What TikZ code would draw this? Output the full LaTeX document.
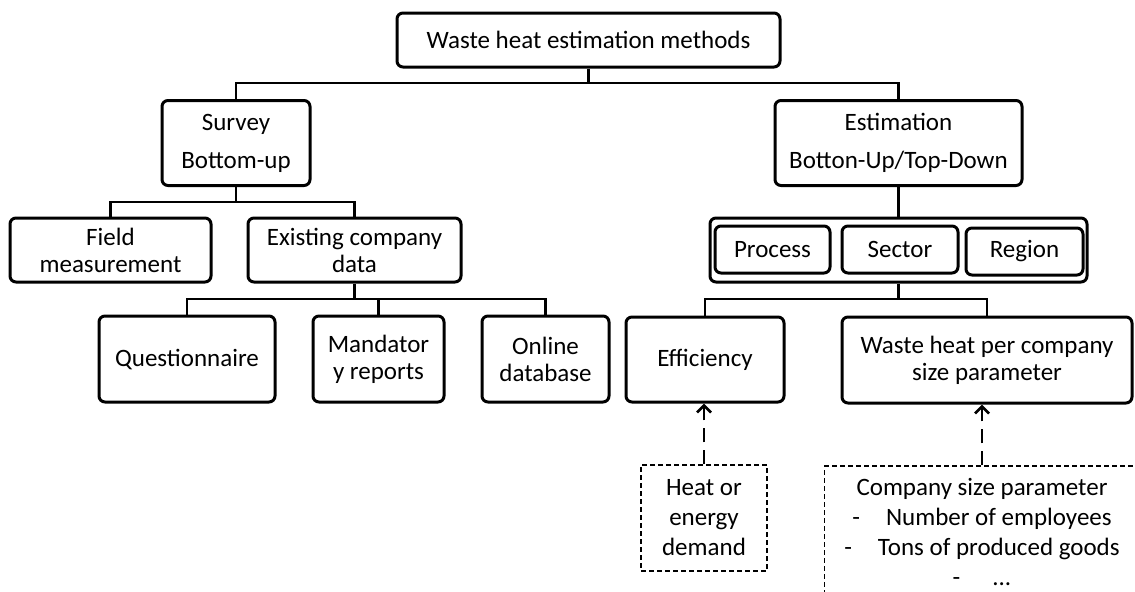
\documentclass[tikz,border=0pt]{standalone}
\usepackage{fontspec}
\setmainfont{Carlito}
\usetikzlibrary{positioning, arrows.meta}

\begin{document}
\begin{tikzpicture}[
    x=0.5pt, y=-0.5pt,
    box/.style={rectangle, rounded corners=3pt, draw, line width=1.5pt, align=center, inner sep=2pt, font=\fontsize{12.5}{13.5}\selectfont},
    subbox/.style={box, minimum width=58pt, minimum height=23.5pt},
    note/.style={rectangle, draw, line width=0.6pt, dash pattern=on 2.5pt off 1.5pt, align=center, inner sep=2pt, font=\fontsize{12.5}{15}\selectfont},
    link/.style={line width=1.4pt},
    dasharr/.style={-{Straight Barb[length=3.5pt, width=7pt]}, line width=1.4pt, dash pattern=on 7pt off 4pt}
]
\useasboundingbox (0,0) rectangle (1135,591);
\clip (0,0) rectangle (1135,591);

% level 0 and 1
\node[box, minimum width=191.5pt, minimum height=27pt] (root) at (588.5,40) {Waste heat estimation methods};
\node[box, minimum width=74pt, minimum height=42.5pt] (survey) at (236,143) {Survey\\[5.5pt]Bottom-up};
\node[box, minimum width=123.5pt, minimum height=42.5pt] (estim) at (898.5,143) {Estimation\\[5.5pt]Botton-Up/Top-Down};

% survey side
\node[box, minimum width=100.5pt, minimum height=32pt] (field) at (110.5,250) {Field\\measurement};
\node[box, minimum width=106.5pt, minimum height=32pt] (exist) at (354.5,250) {Existing company\\data};
\node[box, minimum width=88pt, minimum height=43pt] (quest) at (187,359) {Questionnaire};
\node[box, minimum width=65.5pt, minimum height=43pt] (mand) at (378.5,359) {Mandator\\y reports};
\node[box, minimum width=63.5pt, minimum height=43pt] (online) at (545.5,359) {Online\\database};

% estimation side
\node[box, minimum width=188.5pt, minimum height=32pt] (psr) at (898.5,250) {};
\node[subbox] (sector) at (900,249.5) {Sector};
\node[subbox, minimum width=57.5pt, left=4.5pt of sector] (process) {Process};
\node[subbox, minimum width=58.5pt, right=2.5pt of sector, yshift=-1pt] (region) {Region};
\node[box, minimum width=79pt, minimum height=42.5pt] (eff) at (705,359.5) {Efficiency};
\node[box, minimum width=145pt, minimum height=43pt] (whpc) at (987,360) {Waste heat per company\\size parameter};

% inputs
\node[note, minimum width=63pt, minimum height=53pt] (heat) at (704,518) {Heat or\\energy\\demand};
\node[note, minimum width=157.5pt, minimum height=87pt] (comp) at (982,553) {};
\node[align=center, font=\fontsize{12.5}{15}\selectfont] (complist) at (982,532) {Company size parameter\\
    -\hspace{13pt}Number of employees\\
    -\hspace{13pt}Tons of produced goods\\
    -\hspace{16pt}...};

% tree connectors
\coordinate (j1) at (588.5,83);
\coordinate (j2) at (236,202);
\coordinate (j3) at (354.5,299);
\coordinate (j4) at (898.5,299);

\draw[link] (root) -- (j1);
\draw[link] (survey.north) |- (j1) -| (estim.north);
\draw[link] (survey) -- (j2);
\draw[link] (field.north) |- (j2) -| (exist.north);
\draw[link] (exist) -- (j3);
\draw[link] (quest.north) |- (j3) -| (online.north);
\draw[link] (mand.north) -- (mand.north |- j3);
\draw[link] (estim) -- (psr);
\draw[link] (psr) -- (j4);
\draw[link] (eff.north) |- (j4) -| (whpc.north);

% dashed arrows
\draw[dasharr] (heat.north) -- (heat.north |- eff.south);
\draw[dasharr] (comp.north) -- (comp.north |- whpc.south);

\end{tikzpicture}
\end{document}
